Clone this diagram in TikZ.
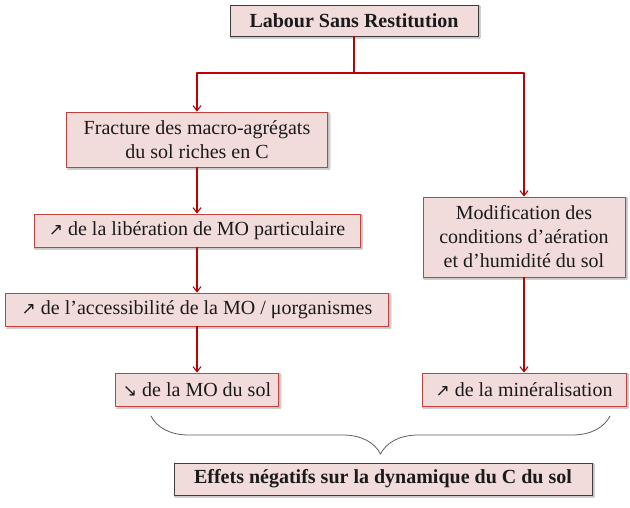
\documentclass[tikz,border=0pt]{standalone}
\usepackage{fontspec}
\setmainfont{Liberation Serif}
\newfontfamily\symfont{DejaVu Sans}
\usepackage{tikz}
\definecolor{ink}{HTML}{1A1A1A}
\definecolor{boxred}{HTML}{C8403C}
\definecolor{linkred}{HTML}{C00000}
\definecolor{boxfill}{HTML}{F2DCDB}
\usetikzlibrary{
  arrows.meta,
  positioning,
  calc,
  decorations.pathreplacing,
  shadows.blur
}
\newcommand{\arrUp}{{\symfont\fontsize{17}{17}\selectfont ↗}}
\newcommand{\arrDown}{{\symfont\fontsize{17}{17}\selectfont ↘}}
\tikzset{
  every picture/.style={line cap=round, line join=round},
  every node/.style={font=\fontsize{20}{24}\selectfont, text=ink},
  shadow/.style={
    blur shadow={
      shadow blur steps=5,
      shadow blur radius=1pt,
      shadow xshift=1.5pt,
      shadow yshift=-1.5pt,
      shadow opacity=35
    }
  },
  block/.style={
    draw=boxred,
    fill=boxfill,
    line width=0.9pt,
    align=center,
    inner sep=2pt,
    shadow
  },
  blockK/.style={block, draw=ink!85, font=\fontsize{20}{24}\selectfont\bfseries},
  link/.style={-{Straight Barb[length=5pt,width=8pt,line width=1.1pt]}, line width=1.4pt, draw=linkred},
  brace/.style={draw=ink!70, line width=0.8pt, decorate, decoration={brace, mirror, amplitude=38pt}}
}
\begin{document}
\begin{tikzpicture}[x=1pt, y=-1pt]
  \useasboundingbox[fill=white] (0,0) rectangle (630,507);

  % Cause
  \node[blockK, minimum width=248pt, minimum height=31pt] (labour) at (354,20.5) {Labour Sans Restitution};
  \coordinate (split) at (354,73);

  % Left branch
  \node[block, minimum width=261pt, minimum height=55pt] (fract) at (197,139.5) {Fracture des macro-agrégats\\du sol riches en C};
  \node[block, minimum width=326pt, minimum height=33pt] (libere) at (197,230.5) {\arrUp{} de la libération de MO particulaire};
  \node[block, minimum width=383pt, minimum height=33pt] (access) at (197,309.5) {\arrUp{} de l’accessibilité de la MO / μorganismes};
  \node[block, minimum width=163pt, minimum height=33pt] (moSol) at (197,389.5) {\arrDown{} de la MO du sol};

  % Right branch
  \node[block, minimum width=202pt, minimum height=80pt] (modif) at (524,237) {Modification des\\conditions d’aération\\et d’humidité du sol};
  \node[block, minimum width=204pt, minimum height=33pt] (minera) at (524,389.5) {\arrUp{} de la minéralisation};

  % Effect
  \node[blockK, minimum width=418pt, minimum height=32pt] (effets) at (383,479) {Effets négatifs sur la dynamique du C du sol};
  \coordinate (braceL) at (151,416);
  \coordinate (braceR) at (610,416);

  % Links
  \draw[line width=1.4pt, draw=linkred] (labour.south) -- (split);
  \draw[link] (split) -| (fract.north);
  \draw[link] (split) -| (modif.north);
  \draw[link] (fract.south) -- (libere.north);
  \draw[link] (libere.south) -- (access.north);
  \draw[link] (access.south) -- (moSol.north);
  \draw[link] (modif.south) -- (minera.north);

  \draw[brace] (braceL) -- (braceR);
\end{tikzpicture}
\end{document}
